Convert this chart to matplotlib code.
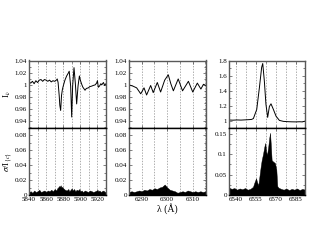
import matplotlib
matplotlib.use("Agg")
import matplotlib.pyplot as plt
from matplotlib.ticker import MultipleLocator

plt.rcParams['font.family'] = ['Liberation Serif', 'DejaVu Serif']
plt.rcParams['mathtext.fontset'] = 'stix'

# ---- Panel 1 (Na D region) ----
wl1 = [5840, 5842, 5844, 5846, 5848, 5850, 5852, 5854, 5856, 5858, 5860, 5862, 5864,
       5866, 5868, 5870, 5872, 5873, 5874, 5875.3, 5876, 5877, 5878, 5879, 5880, 5882,
       5884, 5886, 5887, 5888.7, 5889.9, 5891, 5892.6, 5894.2, 5895.7, 5897.3, 5898.9,
       5900, 5901.6, 5903, 5905.5, 5907, 5909.4, 5911, 5913.4, 5915, 5917.3, 5919,
       5920, 5921, 5922.4, 5924, 5925, 5927, 5928.5, 5930]
iv1 = [1.005, 1.003, 1.006, 1.002, 1.007, 1.004, 1.008, 1.009, 1.006, 1.009, 1.008, 1.006,
       1.008, 1.005, 1.007, 1.006, 1.008, 1.010, 1.004, 0.982, 0.966, 0.957, 0.982, 0.992,
       0.998, 1.008, 1.015, 1.020, 1.023, 0.998, 0.946, 0.998, 1.029, 1.002, 0.968,
       0.998, 1.015, 1.008, 1.001, 0.996, 0.991, 0.994, 0.995, 0.997, 0.998, 0.999, 1.000,
       1.003, 1.007, 0.996, 0.998, 1.002, 1.000, 1.004, 0.999, 1.002]
sg1 = [0.004, 0.005, 0.003, 0.006, 0.004, 0.005, 0.007, 0.004, 0.005, 0.006, 0.004, 0.006,
       0.005, 0.007, 0.005, 0.008, 0.006, 0.009, 0.010, 0.012, 0.011, 0.013, 0.010, 0.011,
       0.009, 0.007, 0.006, 0.008, 0.005, 0.007, 0.009, 0.006, 0.008, 0.005, 0.007,
       0.006, 0.008, 0.005, 0.006, 0.004, 0.006, 0.005, 0.004, 0.006, 0.005, 0.004, 0.005,
       0.006, 0.007, 0.005, 0.006, 0.004, 0.005, 0.006, 0.004, 0.005]

# ---- Panel 2 ([O I] 6300 region) ----
wl2 = [6285, 6286.5, 6288, 6289.6, 6290.9, 6291.9, 6293.5, 6294.5, 6296.1, 6297.4,
       6299.0, 6300.4, 6301.4, 6302.4, 6304.3, 6306.0, 6308.3, 6310.0, 6311.8, 6313.2,
       6314.2, 6315.2]
iv2 = [1.000, 0.998, 0.995, 0.985, 0.995, 0.983, 0.999, 0.987, 1.004, 0.988,
       1.008, 1.017, 1.002, 0.990, 1.010, 0.990, 1.006, 0.988, 1.003, 0.993,
       1.001, 0.999]
wl2s = [6285, 6286, 6287, 6288, 6289, 6290, 6291, 6292, 6293, 6294, 6295, 6296, 6297,
        6298, 6299, 6300, 6301, 6302, 6303, 6304, 6305, 6306, 6307, 6308, 6309, 6310,
        6311, 6312, 6313, 6314, 6315]
sg2 = [0.004, 0.005, 0.004, 0.005, 0.006, 0.005, 0.007, 0.006, 0.008, 0.007, 0.009,
       0.008, 0.010, 0.011, 0.014, 0.010, 0.007, 0.006, 0.005, 0.003, 0.004, 0.005,
       0.004, 0.006, 0.005, 0.004, 0.005, 0.004, 0.005, 0.004, 0.005]

# ---- Panel 3 (H alpha region) ----
wl3 = [6535, 6538, 6541, 6544, 6547, 6550, 6552, 6553.3, 6555.8, 6557.8, 6559.5, 6560.3,
       6561.5, 6562.7, 6564, 6565.3, 6566.5, 6568.3, 6570.3, 6572.8, 6575.8, 6579,
       6582, 6585, 6588, 6590, 6592]
iv3 = [1.010, 1.008, 1.011, 1.009, 1.012, 1.015, 1.018, 1.030, 1.150, 1.440, 1.710, 1.760,
       1.530, 1.220, 1.045, 1.190, 1.225, 1.150, 1.060, 1.005, 0.992, 0.988,
       0.986, 0.985, 0.987, 0.985, 0.995]
wl3s = [6535, 6537, 6539, 6541, 6543, 6545, 6547, 6549, 6551, 6553, 6554, 6555.3, 6556,
        6557, 6558, 6558.8, 6559.5, 6560.5, 6561.5, 6562.2, 6562.9, 6563.5, 6564.5,
        6565.2, 6565.8, 6566.4, 6567, 6568, 6569.5, 6570.5, 6571.2, 6572, 6574, 6576,
        6578, 6580, 6582, 6584, 6586, 6588, 6590, 6592]
sg3 = [0.018, 0.015, 0.017, 0.013, 0.016, 0.014, 0.017, 0.013, 0.015, 0.020, 0.030,
       0.041, 0.032, 0.024, 0.050, 0.070, 0.085, 0.100, 0.118, 0.127, 0.105, 0.098,
       0.120, 0.140, 0.152, 0.120, 0.085, 0.082, 0.078, 0.062, 0.022, 0.018, 0.015,
       0.013, 0.016, 0.012, 0.015, 0.013, 0.016, 0.012, 0.015, 0.013]

xlims = [(5840, 5930), (6285, 6315.2), (6535, 6592)]
xmaj = [20, 10, 15]
xmin = [10, 5, 7.5]
top_ylim = [(0.927, 1.041), (0.927, 1.041), (0.9, 1.8)]
top_major = [0.02, 0.02, 0.2]
top_minor = [0.01, 0.01, 0.1]
bot_ylim = [(0, 0.089), (0, 0.089), (0, 0.163)]
bot_major = [0.02, 0.02, 0.05]
bot_minor = [0.01, 0.01, 0.025]

W, H = 317, 245
fig = plt.figure(figsize=(W / 100, H / 100), dpi=100)

lefts = [29, 129, 229]
widths = [77, 77, 76]
y_top, y_mid, y_bot = 60.5, 128.3, 195

data_top = [(wl1, iv1), (wl2, iv2), (wl3, iv3)]
data_bot = [(wl1, sg1), (wl2s, sg2), (wl3s, sg3)]

fmt = plt.FuncFormatter(lambda v, p: ('%g' % round(v, 3)))
fs = 5
for i in range(3):
    l = lefts[i] / W
    w = widths[i] / W
    axt = fig.add_axes([l, 1 - y_mid / H, w, (y_mid - y_top) / H])
    axb = fig.add_axes([l, 1 - y_bot / H, w, (y_bot - y_mid) / H])
    for ax in (axt, axb):
        ax.set_axisbelow(True)
        ax.set_xlim(*xlims[i])
        ax.xaxis.set_major_locator(MultipleLocator(xmaj[i]))
        ax.xaxis.set_minor_locator(MultipleLocator(xmin[i]))
        ax.grid(True, axis='x', which='both', color='0.55', linestyle=(0, (2, 2)), linewidth=0.5)
        ax.tick_params(which='both', direction='in', top=True, right=True,
                       labelsize=fs, pad=1.5, width=0.5, color='0.3')
        ax.tick_params(which='major', length=2.5)
        ax.tick_params(which='minor', length=1.5)
        for s in ax.spines.values():
            s.set_color('0.35')
            s.set_linewidth(1.0)
        ax.yaxis.set_major_formatter(fmt)
    axt.plot(*data_top[i], color='black', lw=0.7)
    axt.set_ylim(*top_ylim[i])
    axt.yaxis.set_major_locator(MultipleLocator(top_major[i]))
    axt.yaxis.set_minor_locator(MultipleLocator(top_minor[i]))
    axt.tick_params(labelbottom=False)
    axt.spines['bottom'].set_color('black')
    axb.fill_between(data_bot[i][0], 0, data_bot[i][1], color='black', lw=0.3)
    axb.set_ylim(*bot_ylim[i])
    axb.yaxis.set_major_locator(MultipleLocator(bot_major[i]))
    axb.yaxis.set_minor_locator(MultipleLocator(bot_minor[i]))
    axb.spines['top'].set_color('black')
    axb.spines['bottom'].set_color('black')
    if i == 0:
        axt.set_ylabel(r'I$_{\nu}$', fontsize=6.5, labelpad=1)
        axb.set_ylabel(r'$\sigma$/I$_{\{c\}}$', fontsize=6.5, labelpad=0.5)
    if i == 1:
        axb.set_xlabel('λ (Å)', fontsize=7, labelpad=1)

fig.savefig('out.png', dpi=100)
